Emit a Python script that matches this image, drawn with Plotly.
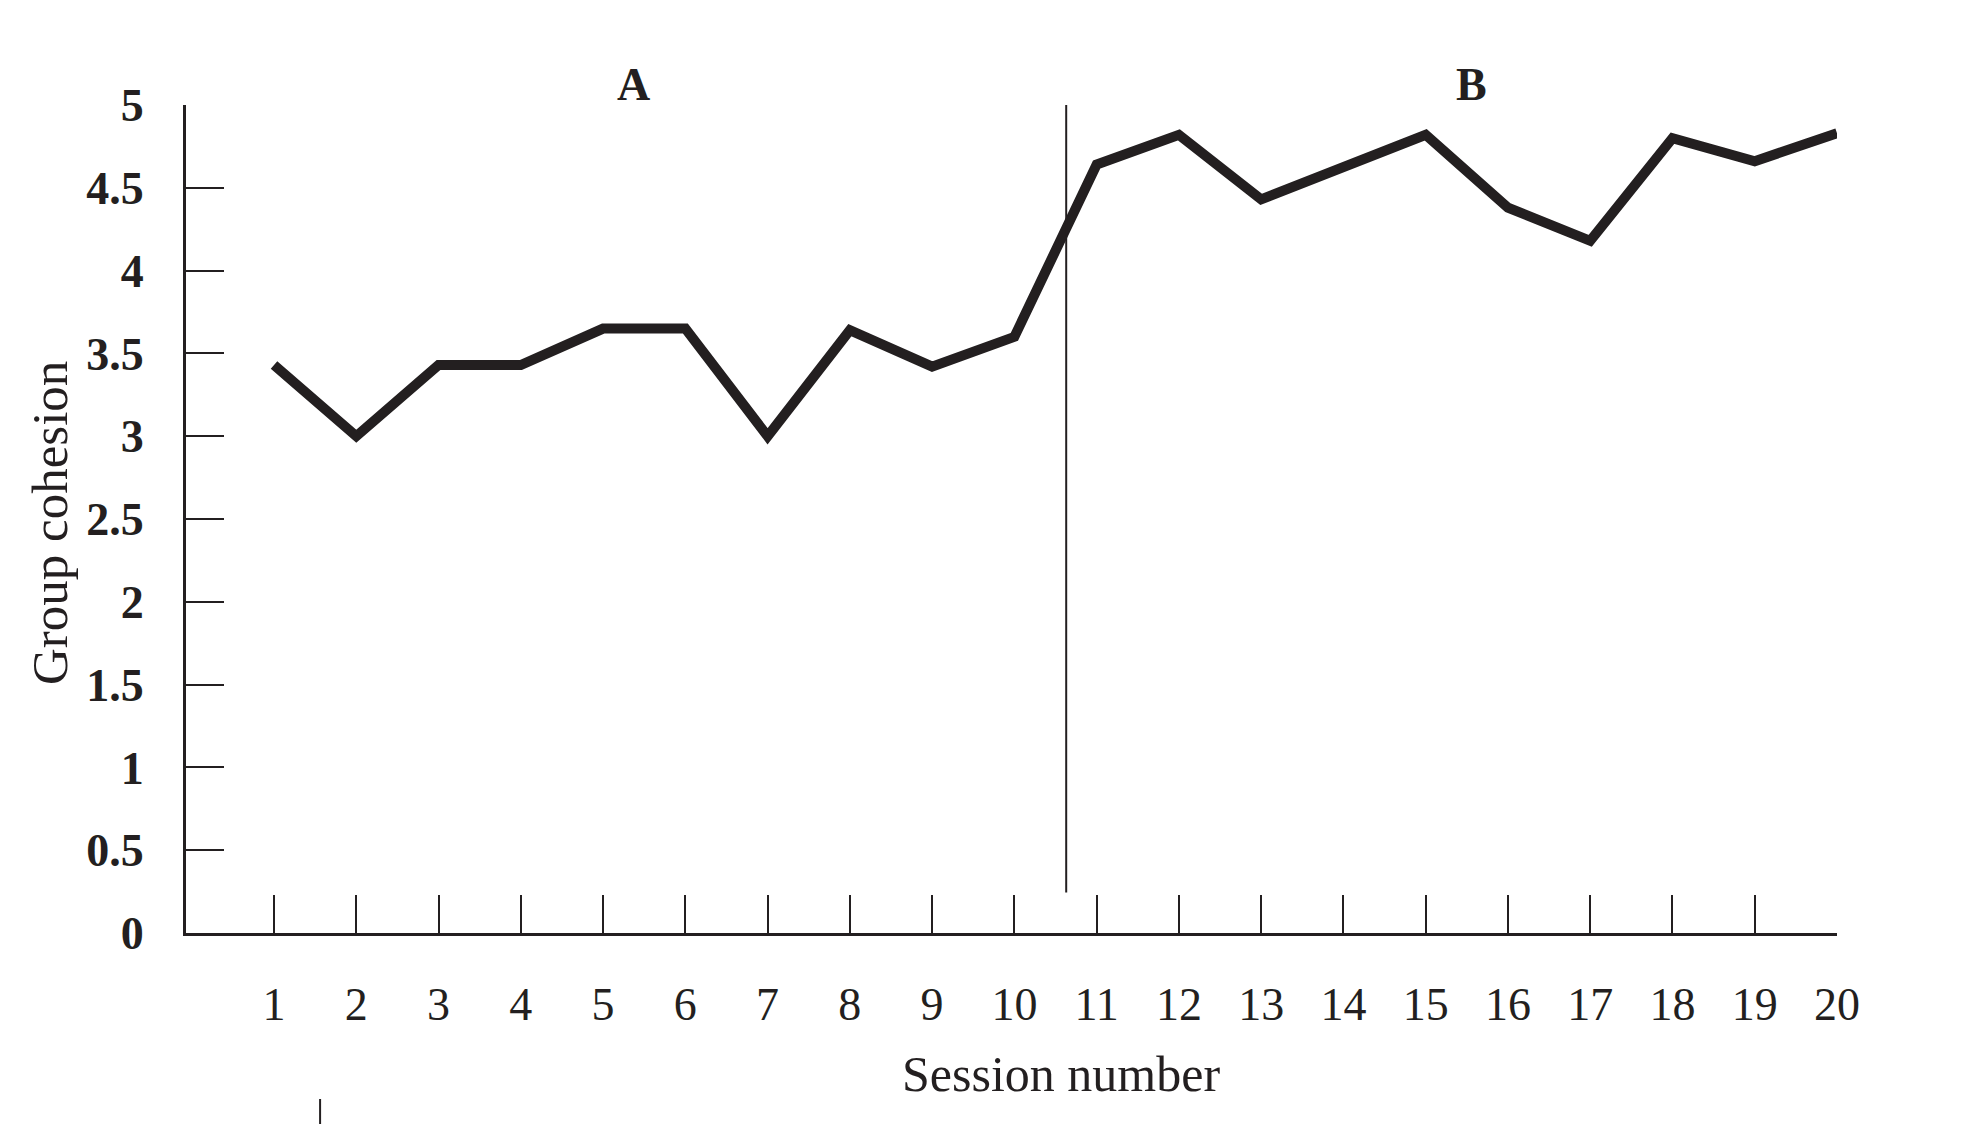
import plotly.graph_objects as go

sessions = list(range(1, 21))
cohesion = [3.43, 3.0, 3.43, 3.43, 3.65, 3.65, 3.0, 3.64, 3.42, 3.6,
            4.64, 4.82, 4.43, 4.63, 4.82, 4.38, 4.18, 4.8, 4.66, 4.83]
y_tickvals = [0, 0.5, 1, 1.5, 2, 2.5, 3, 3.5, 4, 4.5, 5]
y_ticktext = ["0", "0.5", "1", "1.5", "2", "2.5", "3", "3.5", "4", "4.5", "5"]
x_ticktext = [str(s) for s in sessions]
phase_labels = ["A", "B"]
phase_label_x = [5.37, 15.56]
phase_change_x = 10.63

INK = "#231f20"
SERIF = "Liberation Serif, Times New Roman, serif"

L, R, T, B = 186, 139, 105, 191
W, H = 1976, 1124
pw, ph = W - L - R, H - T - B


def px_x(v):
    return (v - L) / pw


def px_y(v):
    return (H - B - v) / ph


fig = go.Figure()
fig.add_trace(go.Scatter(
    x=sessions, y=cohesion, mode="lines",
    line=dict(color=INK, width=10),
    showlegend=False, hoverinfo="skip", cliponaxis=False,
))

# phase change line
fig.add_shape(type="line", xref="x", yref="y",
              x0=phase_change_x, x1=phase_change_x, y0=0.245, y1=5,
              line=dict(color=INK, width=2))
# small stray mark below the axis
fig.add_shape(type="line", xref="x", yref="paper",
              x0=1.56, x1=1.56, y0=px_y(1099), y1=px_y(1126),
              line=dict(color=INK, width=2))

for lab, lx in zip(phase_labels, phase_label_x):
    fig.add_annotation(x=lx, y=px_y(85), xref="x", yref="paper", text="<b>%s</b>" % lab,
                       xanchor="center", yanchor="middle",
                       showarrow=False, font=dict(family=SERIF, size=46, color=INK))

fig.add_annotation(x=px_x(1061), y=px_y(1074), xref="paper", yref="paper",
                   text="Session number", xanchor="center", yanchor="middle",
                   showarrow=False, font=dict(family=SERIF, size=50, color=INK))
fig.add_annotation(x=px_x(50), y=px_y(523), xref="paper", yref="paper",
                   text="Group cohesion", xanchor="center", yanchor="middle",
                   textangle=-90, showarrow=False,
                   font=dict(family=SERIF, size=51, color=INK))

fig.update_xaxes(
    range=[-0.07, 20], tickmode="array", tickvals=sessions, ticktext=x_ticktext,
    ticks="inside", ticklen=38, tickwidth=2, tickcolor=INK,
    showline=True, linecolor=INK, linewidth=3, showgrid=False, zeroline=False,
    ticklabelstandoff=29,
    tickfont=dict(family=SERIF, size=46, color=INK),
)
fig.update_yaxes(
    range=[0, 5], tickmode="array", tickvals=y_tickvals, ticktext=y_ticktext,
    ticks="inside", ticklen=38, tickwidth=2, tickcolor=INK,
    showline=True, linecolor=INK, linewidth=3, showgrid=False, zeroline=False,
    ticklabelstandoff=30,
    tickfont=dict(family=SERIF, size=46, color=INK, weight="bold"),
)
fig.update_layout(
    width=W, height=H, margin=dict(l=L, r=R, t=T, b=B, pad=0),
    plot_bgcolor="white", paper_bgcolor="white", showlegend=False,
)

fig.write_html("out.html", config={"displayModeBar": False},
               post_script="document.body.style.margin='0';")
